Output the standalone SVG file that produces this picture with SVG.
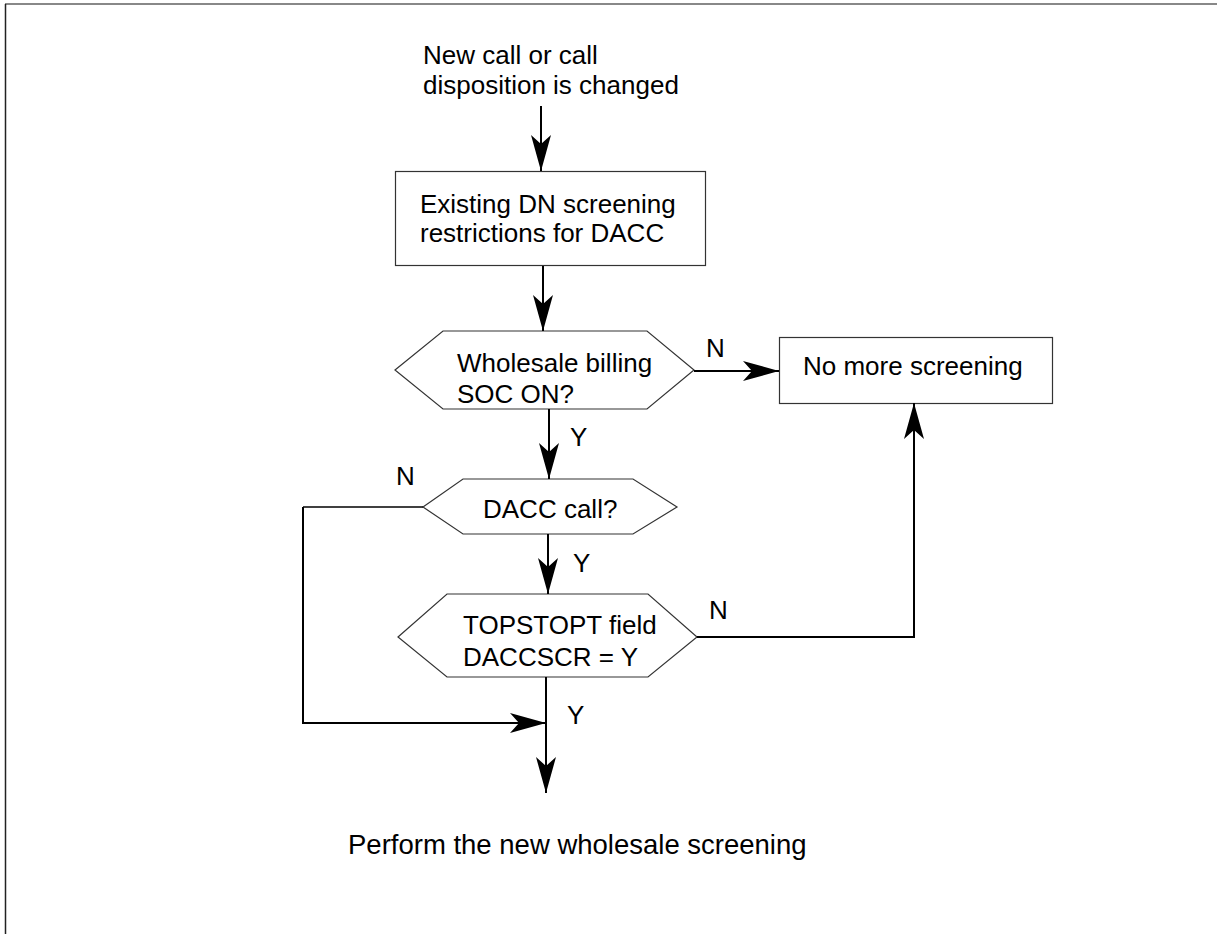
<svg xmlns="http://www.w3.org/2000/svg" width="1217" height="934" viewBox="0 0 1217 934">
<style>
text{font-family:"Liberation Sans",Arial,sans-serif;font-size:26px;fill:#000}
.big{font-size:27.5px}
.shape{fill:#fff;stroke:#333;stroke-width:1.2}
.conn{fill:none;stroke:#000;stroke-width:2}
.thin{fill:none;stroke:#000;stroke-width:1.3}
</style>
<defs>
<marker id="arr" viewBox="-38 -11 39 22" refX="0" refY="0" markerWidth="39" markerHeight="22" markerUnits="userSpaceOnUse" orient="auto">
<path d="M0 0 L-36 -10 L-27 0 L-36 10 Z" fill="#000"/>
</marker>
</defs>
<rect x="0" y="0" width="1217" height="934" fill="#fff"/>
<g id="frame">
<line x1="5" y1="4" x2="1217" y2="4" stroke="#888" stroke-width="2"/>
<line x1="5.5" y1="4" x2="5.5" y2="934" stroke="#222" stroke-width="1.5"/>
</g>
<g id="start">
<text x="423" y="64">New call or call</text>
<text x="423" y="94">disposition is changed</text>
</g>
<g id="existing">
<rect class="shape" x="395.5" y="171.5" width="310" height="94"/>
<text x="420" y="213">Existing DN screening</text>
<text x="420" y="242">restrictions for DACC</text>
</g>
<g id="wholesale">
<polygon class="shape" points="395,370 443,331 647,331 694,370 647,409 443,409"/>
<text x="457" y="372">Wholesale billing</text>
<text x="457" y="403">SOC ON?</text>
</g>
<g id="nomore">
<rect class="shape" x="779.5" y="337.5" width="273" height="66"/>
<text x="803" y="375">No more screening</text>
</g>
<g id="dacc">
<polygon class="shape" points="423,507 463,479 633,479 677,507 633,534 463,534"/>
<text x="483" y="518">DACC call?</text>
</g>
<g id="topstopt">
<polygon class="shape" points="398,637 447,594 648,594 697,637 648,677 447,677"/>
<text x="463" y="634">TOPSTOPT field</text>
<text x="463" y="666">DACCSCR = Y</text>
</g>
<g id="end">
<text class="big" x="348" y="854">Perform the new wholesale screening</text>
</g>
<g id="connectors">
<line class="conn" x1="541" y1="106" x2="541" y2="171" marker-end="url(#arr)"/>
<line class="conn" x1="543" y1="266" x2="543" y2="331" marker-end="url(#arr)"/>
<line class="conn" x1="694" y1="371" x2="779" y2="371" marker-end="url(#arr)"/>
<line class="conn" x1="549" y1="409" x2="549" y2="479" marker-end="url(#arr)"/>
<line class="conn" x1="548" y1="534" x2="548" y2="594" marker-end="url(#arr)"/>
<polyline class="conn" points="697,637 914,637 914,403" marker-end="url(#arr)"/>
<polyline class="thin" points="423,507 303,507"/>
<polyline class="conn" points="303,507 303,723 546,723" marker-end="url(#arr)"/>
<line class="conn" x1="546" y1="677" x2="546" y2="793" marker-end="url(#arr)"/>
</g>
<g id="labels">
<text x="706" y="357">N</text>
<text x="570" y="446">Y</text>
<text x="396" y="485">N</text>
<text x="573" y="572">Y</text>
<text x="709" y="619">N</text>
<text x="567" y="724">Y</text>
</g>
</svg>
